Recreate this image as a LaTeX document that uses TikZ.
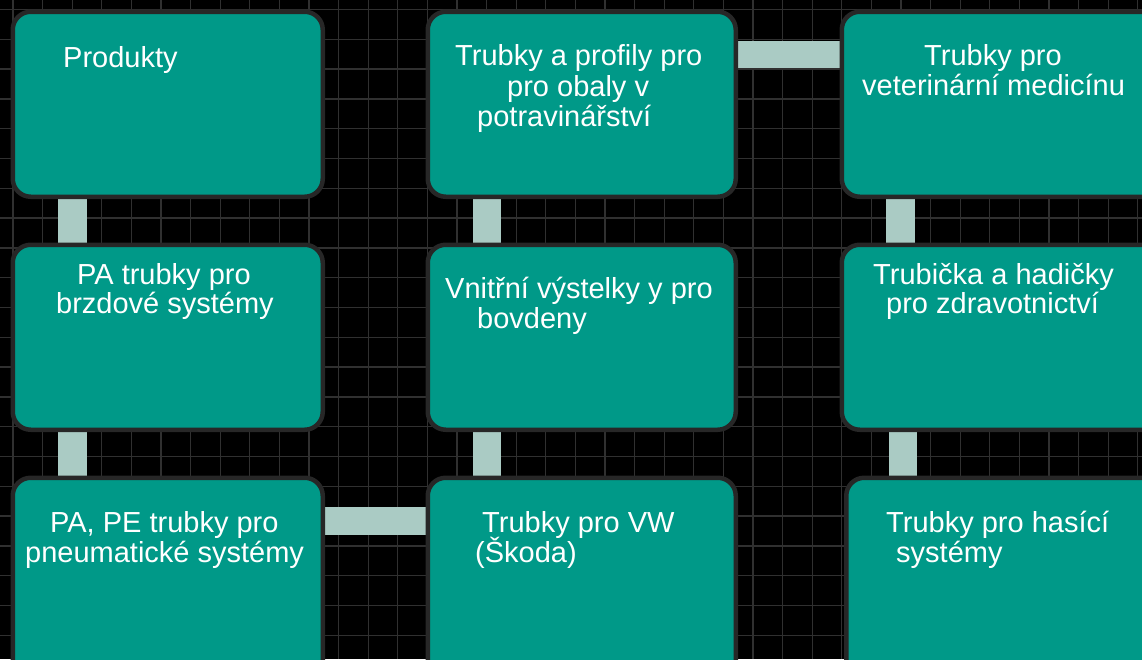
\documentclass[tikz,border=0pt]{standalone}
\usepackage{fontspec}
\setmainfont{Liberation Sans}
\pgfdeclarelayer{gridlayer}
\pgfdeclarelayer{linklayer}
\pgfsetlayers{gridlayer,linklayer,main}
\definecolor{boxfill}{HTML}{009988}
\definecolor{boxedge}{HTML}{272727}
\definecolor{linkfill}{HTML}{AACBC4}
\definecolor{gridcol}{HTML}{303030}
\begin{document}
\begin{tikzpicture}[x=1pt,y=-1pt,
  box/.style={draw=boxedge, line width=4.5pt, fill=boxfill, rounded corners=18pt,
    anchor=north west, inner sep=0pt, minimum height=185pt},
  wbox/.style={box, minimum width=310pt},
  link/.style={draw=linkfill, line width=#1},
  gridline/.style={draw=gridcol, line width=1.3pt},
  txt/.style={anchor=base west, inner sep=0pt, text=white, font=\fontsize{29}{29}\selectfont}]
\useasboundingbox (0,0) rectangle (1142,659);
\begin{pgfonlayer}{gridlayer}
  \fill[black] (0,0) rectangle (1142,659);
  \foreach \i in {0,...,38} \draw[gridline] ({13+29.6*\i},0) -- ({13+29.6*\i},659);
  \foreach \j in {0,...,22} \draw[gridline] (0,{9.5+29.8*\j}) -- (1142,{9.5+29.8*\j});
\end{pgfonlayer}
% boxes
\node[wbox] (b11) at (10.5,9.5) {};
\node[wbox] (b21) at (10.5,242.5) {};
\node[wbox, minimum height=230pt] (b31) at (10.5,475.5) {};
\node[box, minimum width=308pt] (b12) at (425.5,9.5) {};
\node[box, minimum width=308pt] (b22) at (425.5,242.5) {};
\node[box, minimum width=308pt, minimum height=230pt] (b32) at (425.5,475.5) {};
\node[box, minimum width=330pt] (b13) at (839.5,9.5) {};
\node[box, minimum width=330pt] (b23) at (839.5,242.5) {};
\node[box, minimum width=330pt, minimum height=230pt] (b33) at (844,475.5) {};
% connectors
\begin{pgfonlayer}{linklayer}
  \draw[link=29pt] ([xshift=62pt]b11.south west) -- ([xshift=62pt]b21.north west);
  \draw[link=29pt] ([xshift=62pt]b21.south west) -- ([xshift=62pt]b31.north west);
  \draw[link=28pt] ([xshift=61.5pt]b12.south west) -- ([xshift=61.5pt]b22.north west);
  \draw[link=28pt] ([xshift=61.5pt]b22.south west) -- ([xshift=61.5pt]b32.north west);
  \draw[link=29pt] ([xshift=61pt]b13.south west) -- ([xshift=61pt]b23.north west);
  \draw[link=28pt] ([xshift=63.5pt]b23.south west) -- ([xshift=59pt]b33.north west);
  \draw[link=27pt] ([yshift=-45pt]b12.north east) -- ([yshift=-45pt]b13.north west);
  \draw[link=28pt] ([yshift=-45.5pt]b31.north east) -- ([yshift=-45.5pt]b32.north west);
\end{pgfonlayer}
% texts
\node[txt] (t11a) at (63,67) {Produkty};
\node[txt] (t21a) at (77,284) {PA trubky pro};
\node[txt] (t21b) at (56,313) {brzdové systémy};
\node[txt] (t31a) at (50,532) {PA, PE trubky pro};
\node[txt] (t31b) at (25,562) {pneumatické systémy};
\node[txt] (t12a) at (455,65) {Trubky a profily pro};
\node[txt] (t12b) at (507,96) {pro obaly v};
\node[txt] (t12c) at (477,126) {potravinářství};
\node[txt] (t22a) at (445,298) {Vnitřní výstelky y pro};
\node[txt] (t22b) at (477,328) {bovdeny};
\node[txt] (t32a) at (482,532) {Trubky pro VW};
\node[txt] (t32b) at (475,562) {(Škoda)};
\node[txt] (t13a) at (924,65) {Trubky pro};
\node[txt] (t13b) at (862,95) {veterinární medicínu};
\node[txt] (t23a) at (873,284) {Trubička a hadičky};
\node[txt] (t23b) at (886,313) {pro zdravotnictví};
\node[txt] (t33a) at (886,532) {Trubky pro hasící};
\node[txt] (t33b) at (896,562) {systémy};
\end{tikzpicture}
\end{document}
